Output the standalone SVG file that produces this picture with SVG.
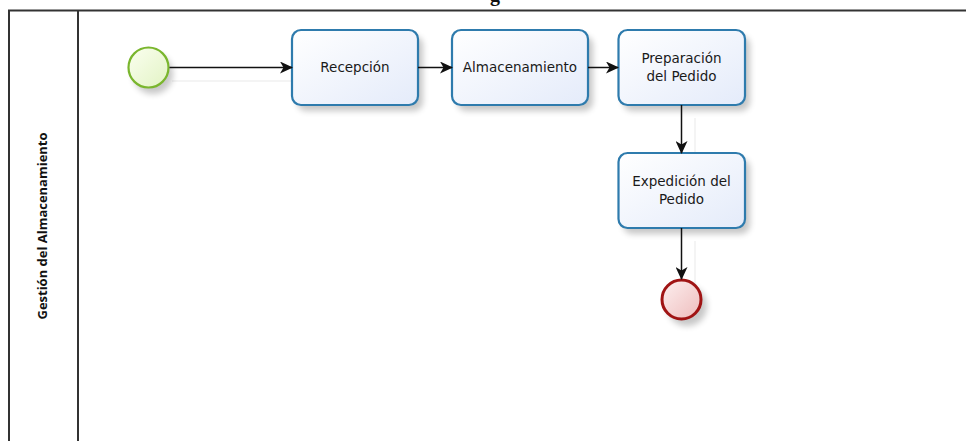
<svg xmlns="http://www.w3.org/2000/svg" width="966" height="441" viewBox="0 0 966 441">
<style>
.task rect.b{fill:url(#gTask);stroke:#2e7bad;stroke-width:2.2}
.task text{font-family:"DejaVu Sans",Verdana,sans-serif;font-size:13.5px;fill:#1a1a1a;text-anchor:middle}
.conn{stroke:#111;stroke-width:1.5;fill:none;marker-end:url(#arr)}
.csh{stroke:#f0f0f0;stroke-width:1.5;fill:none}
.shadow{fill:#000;opacity:0.22;filter:url(#blur)}
</style>
<defs>
<linearGradient id="gTask" x1="0" y1="0" x2="1" y2="1">
<stop offset="0" stop-color="#ffffff"/><stop offset="1" stop-color="#e4ebfa"/>
</linearGradient>
<linearGradient id="gStart" x1="0" y1="0" x2="1" y2="1">
<stop offset="0" stop-color="#fbfff0"/><stop offset="1" stop-color="#e2f3c4"/>
</linearGradient>
<linearGradient id="gEnd" x1="0" y1="0" x2="1" y2="1">
<stop offset="0" stop-color="#fdf0f0"/><stop offset="1" stop-color="#eebcbc"/>
</linearGradient>
<filter id="blur" x="-30%" y="-30%" width="160%" height="160%"><feGaussianBlur stdDeviation="3"/></filter>
<marker id="arr" viewBox="0 0 13 12" refX="12" refY="6" markerWidth="13" markerHeight="12" markerUnits="userSpaceOnUse" orient="auto">
<path d="M0,0 L13,6 L0,12 L3.5,6 Z" fill="#111"/>
</marker>
</defs>
<rect width="966" height="441" fill="#fff"/>
<g id="title"><text x="495" y="1" font-family="Liberation Serif,serif" font-weight="bold" font-size="20" text-anchor="middle" fill="#111">g</text></g>
<g id="lane">
<path d="M9,441 V10.5 H966" fill="none" stroke="#333" stroke-width="2"/>
<line x1="78" y1="10.5" x2="78" y2="441" stroke="#333" stroke-width="2"/>
<text transform="translate(47,226) rotate(-90)" font-family="Open Sans,DejaVu Sans,sans-serif" font-weight="bold" font-size="12" fill="#111" text-anchor="middle" textLength="187" lengthAdjust="spacingAndGlyphs">Gestión del Almacenamiento</text>
</g>
<g id="connector-shadows">
<line class="csh" x1="172" y1="81" x2="292" y2="81"/>
<line class="csh" x1="695" y1="118" x2="695" y2="153"/>
<line class="csh" x1="695" y1="241" x2="695" y2="290"/>
</g>
<g id="start">
<circle class="shadow" cx="153" cy="74" r="20"/>
<circle cx="148.5" cy="67.5" r="20" fill="url(#gStart)" stroke="#7ab62e" stroke-width="2.2"/>
</g>
<g id="recepcion" class="task">
<rect class="shadow" x="297" y="36" width="126" height="75" rx="9"/>
<rect class="b" x="292" y="30" width="126" height="75" rx="9"/>
<text x="355" y="72">Recepción</text>
</g>
<g id="almacenamiento" class="task">
<rect class="shadow" x="457" y="36" width="136" height="75" rx="9"/>
<rect class="b" x="452" y="30" width="136" height="75" rx="9"/>
<text x="520" y="72">Almacenamiento</text>
</g>
<g id="preparacion" class="task">
<rect class="shadow" x="623" y="36" width="127" height="75" rx="9"/>
<rect class="b" x="618.5" y="30" width="126.5" height="75" rx="9"/>
<text x="681.5" y="63">Preparación</text>
<text x="681.5" y="81">del Pedido</text>
</g>
<g id="expedicion" class="task">
<rect class="shadow" x="623" y="159" width="127" height="75" rx="9"/>
<rect class="b" x="618.5" y="153" width="126.5" height="75" rx="9"/>
<text x="681.5" y="186">Expedición del</text>
<text x="681.5" y="204">Pedido</text>
</g>
<g id="end">
<circle class="shadow" cx="687" cy="306" r="20"/>
<circle cx="681.5" cy="299.5" r="19.5" fill="url(#gEnd)" stroke="#a01414" stroke-width="3"/>
</g>
<g id="connectors">
<line class="conn" x1="169.5" y1="67.5" x2="292" y2="67.5"/>
<line class="conn" x1="418" y1="67.5" x2="452" y2="67.5"/>
<line class="conn" x1="588" y1="67.5" x2="618" y2="67.5"/>
<line class="conn" x1="681.5" y1="105" x2="681.5" y2="153"/>
<line class="conn" x1="681.5" y1="228" x2="681.5" y2="279"/>
</g>
</svg>
